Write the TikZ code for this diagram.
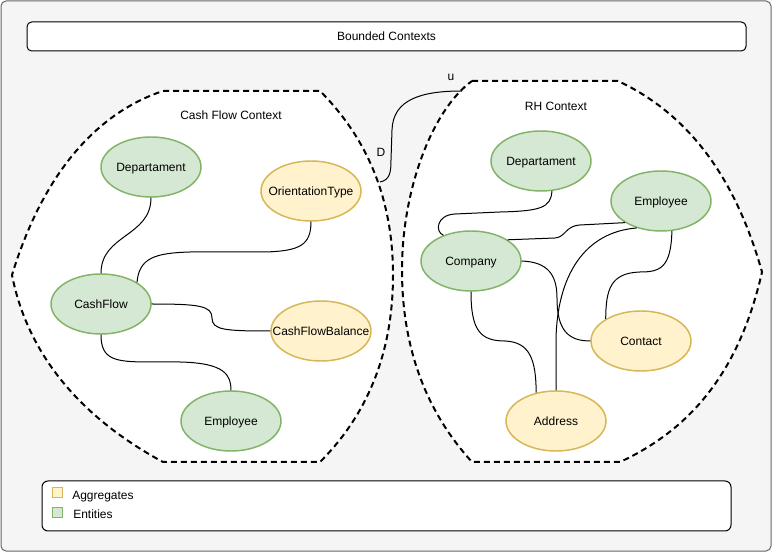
\documentclass[tikz,border=0pt]{standalone}
\usepackage{fontspec}
\setmainfont{Liberation Sans}
\usetikzlibrary{shapes.geometric}
\definecolor{entfill}{HTML}{D5E8D4}
\definecolor{entline}{HTML}{82B366}
\definecolor{aggfill}{HTML}{FFF2CC}
\definecolor{aggline}{HTML}{D6B656}
\definecolor{bgfill}{HTML}{F5F5F5}
\definecolor{bgline}{HTML}{666666}
\begin{document}
\begin{tikzpicture}[x=0.75pt,y=-0.75pt,
  font=\fontsize{9}{11}\selectfont,
  ent/.style={ellipse, draw=entline, fill=entfill, line width=1.1pt,
    minimum width=75pt, minimum height=45pt, inner sep=0pt,
    text height=6.5pt, text depth=0pt},
  agg/.style={ent, draw=aggline, fill=aggfill},
  ctx/.style={draw=black, fill=white, line width=1.5pt, dash pattern=on 4.5pt off 3pt},
  link/.style={draw=black, line width=0.75pt},
  lbl/.style={inner sep=0pt, text height=6.5pt, text depth=0pt},
  boxed/.style={draw=black, fill=white, line width=0.75pt, rounded corners=3.5pt},
  legsq/.style={minimum size=7.5pt, inner sep=0pt, line width=0.75pt}]

\useasboundingbox (0,0) rectangle (772,552);
\draw[draw=bgline, fill=bgfill, rounded corners=3.75pt, line width=0.75pt] (1,1) rectangle (771,551);

% header
\node[boxed, minimum width=539.25pt, minimum height=21.75pt] (hdr) at (386.5,36.5) {Bounded Contexts};

% contexts
\draw[ctx] (163,91) -- (320,91) .. controls (368.7,139.7) and (393,201) .. (393,275)
  .. controls (393,351) and (368.7,413.3) .. (320,462) -- (163,462)
  .. controls (78,416) and (27,352) .. (12,275)
  .. controls (42,177) and (94,114) .. (163,91) -- cycle;
\draw[ctx] (472,81) -- (618,81) .. controls (687.8,113.6) and (735.2,176.6) .. (762,272)
  .. controls (742,360) and (700,425) .. (620,462) -- (472,462)
  .. controls (425.3,410.7) and (402,346.7) .. (402,270)
  .. controls (402,190) and (432,110) .. (472,81) -- cycle;

\node[lbl] (ctitle1) at (231,115) {Cash Flow Context};
\node[lbl] (ctitle2) at (556,106) {RH Context};

% link between contexts
\coordinate (lk1) at (380,182);
\coordinate (lk2) at (462,91);
\draw[link] (lk1) .. controls (390,180) and (391,172) .. (391,160) -- (392,130)
  .. controls (393,100) and (420,91) .. (lk2);
\node[lbl] (lkd) at (381,152) {D};
\node[lbl] (lku) at (451,76) {u};

% Cash Flow context nodes
\node[ent] (cdep) at (151,167) {\makebox[0pt]{Departament}};
\node[agg] (cori) at (311,191) {\makebox[0pt]{OrientationType}};
\node[ent] (ccf) at (101,304) {\makebox[0pt]{CashFlow}};
\node[agg] (cbal) at (321,331) {\makebox[0pt]{CashFlowBalance}};
\node[ent] (cemp) at (231,421) {\makebox[0pt]{Employee}};

% RH context nodes
\node[ent] (rdep) at (541,161) {\makebox[0pt]{Departament}};
\node[ent] (remp) at (661,201) {\makebox[0pt]{Employee}};
\node[ent] (rcom) at (471,261) {\makebox[0pt]{Company}};
\node[agg] (rcon) at (641,341) {\makebox[0pt]{Contact}};
\node[agg] (radd) at (556,421) {\makebox[0pt]{Address}};

% Cash Flow edges
\draw[link] (cdep.south) .. controls +(0,39) and +(0,-39) .. (ccf.north);
\draw[link] (ccf.31) .. controls (139,258) and (155,253) .. (190,252) -- (265,252)
  .. controls (300,251) and (311,245) .. (cori.south);
\draw[link] (ccf.east) .. controls (200,304) and (212,306) .. (212,318)
  .. controls (212,330) and (225,331) .. (cbal.west);
\draw[link] (ccf.south) .. controls (101,360) and (115,362) .. (150,362) -- (180,362)
  .. controls (225,363) and (231,375) .. (cemp.north);

% RH edges
\draw[link] (rdep.-70) .. controls (551,208) and (540,211) .. (500,212) -- (455,214)
  .. controls (436,215) and (435,232) .. (rcom.137);
\draw[link] (rcom.30) -- (555,238) .. controls (566,237) and (565,226) .. (580,225) -- (remp.211);
\draw[link] (remp.228) .. controls (585,232) and (557,275) .. (556,340) -- (radd.north);
\draw[link] (remp.-70) .. controls (671,268) and (660,272) .. (640,272)
  .. controls (610,273) and (606,290) .. (rcon.148);
\draw[link] (rcom.east) .. controls (548,262) and (557,275) .. (557,298)
  .. controls (557,330) and (568,341) .. (rcon.west);
\draw[link] (rcom.south) .. controls (471,330) and (480,341) .. (505,341)
  .. controls (530,342) and (536,360) .. (radd.125);

% legend
\node[boxed, rounded corners=4.5pt, minimum width=516.75pt, minimum height=37.5pt] (leg) at (386.5,506) {};
\node[legsq, draw=aggline, fill=aggfill] (legagg) at (57,493) {};
\node[legsq, draw=entline, fill=entfill] (legent) at (57,513) {};
\node[inner sep=0pt, anchor=base west] (legaggt) at (72,500) {Aggregates};
\node[inner sep=0pt, anchor=base west] (legentt) at (73,518.5) {Entities};
\end{tikzpicture}
\end{document}
